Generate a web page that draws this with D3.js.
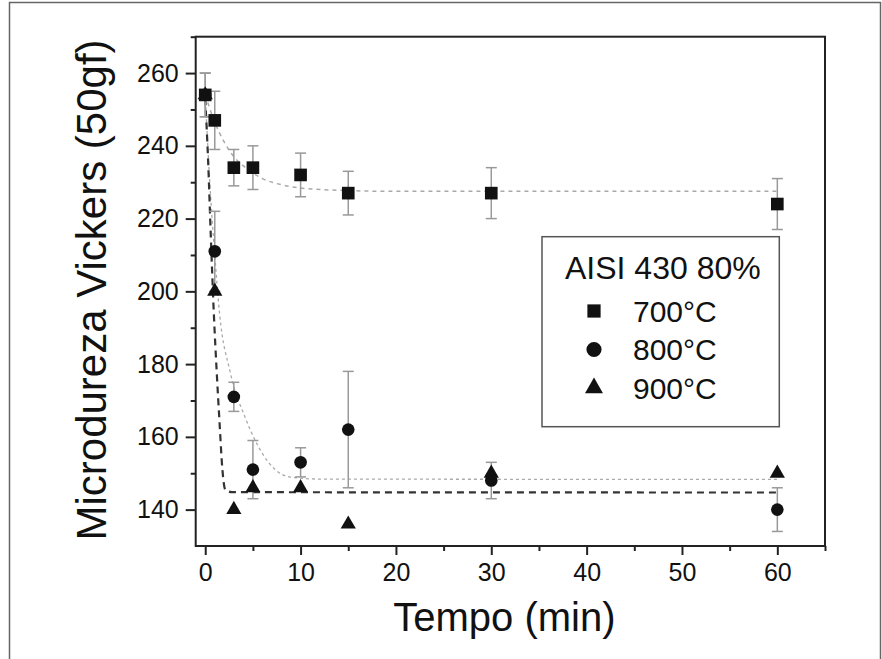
<!DOCTYPE html>
<html>
<head>
<meta charset="utf-8">
<script src="https://cdn.jsdelivr.net/npm/d3@7"></script>
<style>
  body { margin: 0; background: #fff; }
  text { font-family: "Liberation Sans", Arial, sans-serif; fill: #111; }
</style>
</head>
<body>
<div id="chart"></div>
<script>
// Microhardness data, AISI 430 80%
var times = [0, 1, 3, 5, 10, 15, 30, 60];
var hv700 = [254, 247, 234, 234, 232, 227, 227, 224];
var err700 = [6, 8, 5, 6, 6, 6, 7, 7];
var hv800 = [254, 211, 171, 151, 153, 162, 148, 140];
var err800 = [6, 11, 4, 8, 4, 16, 5, 6];
var hv900 = [254, 200, 140, 146, 146, 136, 150, 150];

// fit curves
var fitT700 = [0, 1, 2, 3, 4, 5, 6, 8, 10, 15, 20, 60];
var fitV700 = [254, 246.5, 241, 237, 234.5, 232.5, 231, 229.3, 228.4, 227.7, 227.5, 227.5];
var fitT800 = [0, 0.5, 1, 1.5, 2.6, 4.3, 6, 8.8, 12, 60];
var fitV800 = [254, 229, 210, 194, 178, 164.6, 155.4, 149, 148.4, 148.3];
var fitT900 = [0, 0.3, 0.6, 0.9, 1.2, 1.5, 1.8, 2.1, 2.8, 60];
var fitV900 = [253, 236, 214, 194, 178, 164, 151, 145.5, 144.8, 144.7];

var xTicks = [0, 10, 20, 30, 40, 50, 60];
var yTicks = [140, 160, 180, 200, 220, 240, 260];
var legendLabels = ["700°C", "800°C", "900°C"];

var svgWidth = 882;
var svgHeight = 659;

var margin = { top: 36.7, right: 57, bottom: 113, left: 195.7 };
var width = svgWidth - margin.left - margin.right;
var height = svgHeight - margin.top - margin.bottom;

var svg = d3.select("#chart")
    .append("svg")
    .attr("width", svgWidth)
    .attr("height", svgHeight);

// outer frame
svg.append("rect")
    .attr("x", 9.5)
    .attr("y", 2.5)
    .attr("width", 871)
    .attr("height", 700)
    .attr("fill", "none")
    .attr("stroke", "#666")
    .attr("stroke-width", 1.5);

var chartGroup = svg.append("g")
    .attr("transform", `translate(${margin.left}, ${margin.top})`);

var x = d3.scaleLinear().domain([-1, 65]).range([0, width]);
var y = d3.scaleLinear().domain([130, 270]).range([height, 0]);

// axes
var bottomAxis = d3.axisBottom(x).tickValues(xTicks).tickSize(9).tickSizeOuter(0).tickPadding(8);
var bottomMinor = d3.axisBottom(x).tickValues([5, 15, 25, 35, 45, 55, 65]).tickSize(5).tickSizeOuter(0).tickFormat("");
var leftAxis = d3.axisLeft(y).tickValues(yTicks).tickSize(10).tickSizeOuter(0).tickPadding(7);
var leftMinor = d3.axisLeft(y).tickValues([150, 170, 190, 210, 230, 250, 270]).tickSize(5).tickSizeOuter(0).tickFormat("");

function styleAxis(g) {
    g.select(".domain").remove();
    g.selectAll("line").attr("stroke", "#222").attr("stroke-width", 2);
    g.selectAll("text").attr("font-size", "25px").attr("fill", "#111")
        .style("font-family", "'Liberation Sans', Arial, sans-serif");
}

chartGroup.append("g").attr("transform", `translate(0, ${height})`).call(bottomAxis).call(styleAxis);
chartGroup.append("g").attr("transform", `translate(0, ${height})`).call(bottomMinor).call(styleAxis);
chartGroup.append("g").call(leftAxis).call(styleAxis);
chartGroup.append("g").call(leftMinor).call(styleAxis);

// plot frame
chartGroup.append("rect")
    .attr("width", width)
    .attr("height", height)
    .attr("fill", "none")
    .attr("stroke", "#222")
    .attr("stroke-width", 2);

// axis titles
chartGroup.append("text")
    .attr("transform", "rotate(-90)")
    .attr("x", -(540 - margin.top - 250))
    .attr("y", 106 - margin.left)
    .attr("text-anchor", "middle")
    .attr("font-size", "42px")
    .text("Microdureza Vickers (50gf)");

chartGroup.append("text")
    .attr("x", width / 2 - 6)
    .attr("y", 631 - margin.top)
    .attr("text-anchor", "middle")
    .attr("font-size", "40px")
    .text("Tempo (min)");

// fit lines
var line = d3.line()
    .x(d => x(d[0]))
    .y(d => y(d[1]))
    .curve(d3.curveMonotoneX);

chartGroup.append("path")
    .datum(d3.zip(fitT800, fitV800))
    .attr("d", line)
    .attr("fill", "none")
    .attr("stroke", "#aaa")
    .attr("stroke-width", 1.3)
    .attr("stroke-dasharray", "3,3");

chartGroup.append("path")
    .datum(d3.zip(fitT700, fitV700))
    .attr("d", line)
    .attr("fill", "none")
    .attr("stroke", "#aaa")
    .attr("stroke-width", 1.5)
    .attr("stroke-dasharray", "4,4");

chartGroup.append("path")
    .datum(d3.zip(fitT900, fitV900))
    .attr("d", line)
    .attr("fill", "none")
    .attr("stroke", "#333")
    .attr("stroke-width", 2.2)
    .attr("stroke-dasharray", "7,5");

// error bars
function errorBars(vals, errs) {
    var g = chartGroup.append("g")
        .attr("stroke", "#999")
        .attr("stroke-width", 1.5);
    times.forEach(function(t, i) {
        var cx = x(t);
        var top = y(vals[i] + errs[i]);
        var bot = y(vals[i] - errs[i]);
        g.append("line").attr("x1", cx).attr("x2", cx).attr("y1", top).attr("y2", bot);
        g.append("line").attr("x1", cx - 5.5).attr("x2", cx + 5.5).attr("y1", top).attr("y2", top);
        g.append("line").attr("x1", cx - 5.5).attr("x2", cx + 5.5).attr("y1", bot).attr("y2", bot);
    });
}
errorBars(hv700, err700);
errorBars(hv800, err800);

// markers
var symbols = [d3.symbolSquare, d3.symbolCircle, d3.symbolTriangle];
var plotSizes = [160, 125, 100];
var legendSizes = [175, 180, 140];
var series = [hv700, hv800, hv900];

[2, 1, 0].forEach(function(k) {
    chartGroup.append("g").selectAll("path")
        .data(times)
        .enter()
        .append("path")
        .attr("d", d3.symbol().type(symbols[k]).size(plotSizes[k]))
        .attr("transform", (t, i) => `translate(${x(t)}, ${y(series[k][i])})`)
        .attr("fill", "#111");
});

// legend
var legend = svg.append("g");
legend.append("rect")
    .attr("x", 542)
    .attr("y", 236.7)
    .attr("width", 237.3)
    .attr("height", 190)
    .attr("fill", "#fff")
    .attr("stroke", "#555")
    .attr("stroke-width", 1.5);

legend.append("text")
    .attr("x", 565)
    .attr("y", 279)
    .attr("font-size", "32px")
    .text("AISI 430 80%");

legendLabels.forEach(function(lab, k) {
    var cy = 311 + k * 38.5;
    legend.append("path")
        .attr("d", d3.symbol().type(symbols[k]).size(legendSizes[k]))
        .attr("transform", `translate(594, ${cy})`)
        .attr("fill", "#111");
    legend.append("text")
        .attr("x", 633)
        .attr("y", cy + 10.5)
        .attr("font-size", "30px")
        .text(lab);
});
</script>
</body>
</html>
